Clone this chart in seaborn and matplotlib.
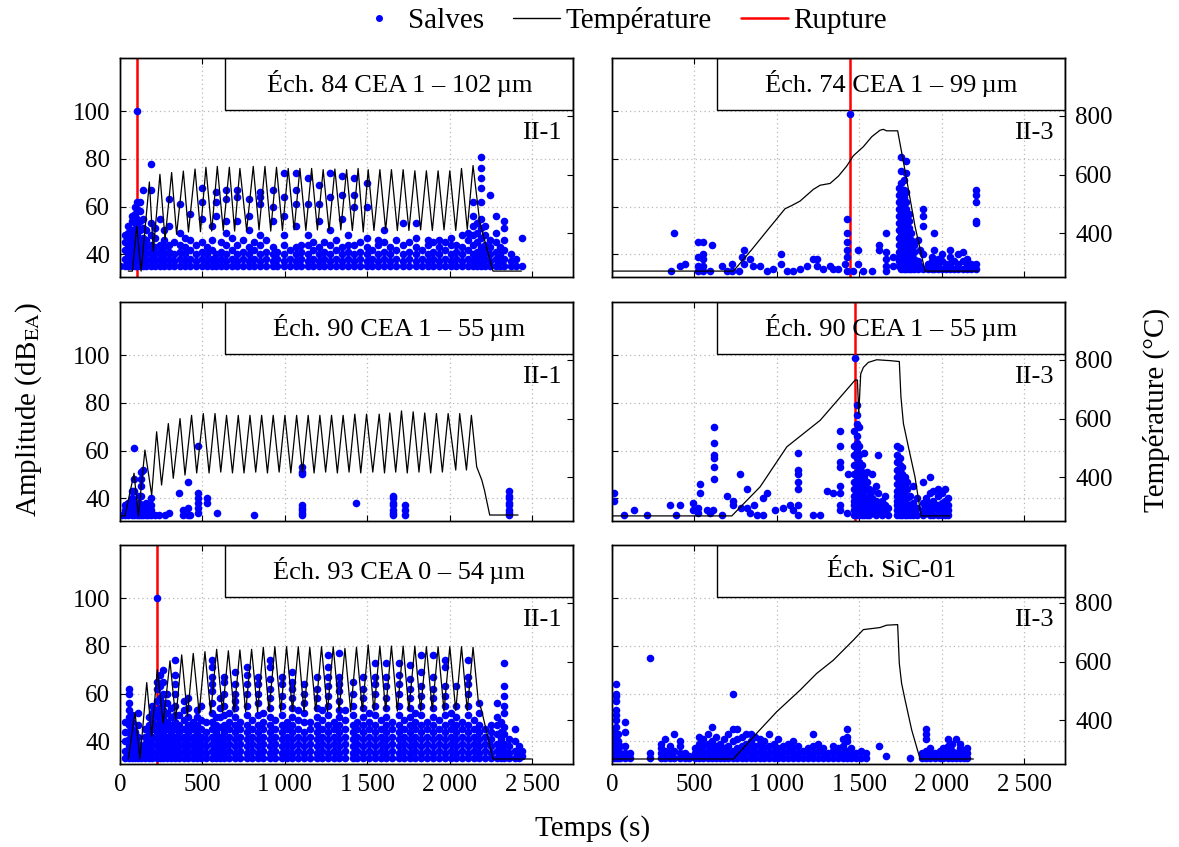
import pandas as pd
import matplotlib
matplotlib.use("Agg")
import matplotlib.pyplot as plt
from matplotlib.patches import Rectangle
from matplotlib.lines import Line2D
import seaborn as sns

# ---------------- data ----------------
# temperature curves : (time in s, temperature in °C)
p84_temp = [(50, 272), (75, 272), (101, 425), (128, 272), (178, 575), (202, 340), (242, 601), (273, 380),
            (313, 607), (343, 397), (384, 612), (415, 405), (455, 619), (488, 406), (521, 625), (556, 408),
            (590, 628), (626, 410), (663, 625), (695, 408), (727, 621), (768, 410), (808, 628), (843, 412),
            (879, 628), (914, 408), (949, 625), (985, 410), (1020, 621), (1056, 412), (1091, 621), (1127, 410),
            (1162, 621), (1197, 412), (1232, 617), (1268, 410), (1303, 619), (1339, 412), (1374, 617), (1409, 410),
            (1444, 621), (1475, 405), (1505, 617), (1540, 410), (1576, 617), (1611, 412), (1646, 617), (1682, 410),
            (1717, 617), (1752, 410), (1788, 613), (1823, 412), (1858, 613), (1894, 410), (1929, 613), (1965, 412),
            (2000, 613), (2036, 410), (2071, 621), (2106, 414), (2141, 631), (2182, 437), (2262, 272), (2434, 272)]

p74_temp = [(0, 272), (737, 272), (848, 345), (939, 408), (1050, 484), (1091, 495), (1141, 510), (1222, 550),
            (1263, 564), (1323, 570), (1374, 595), (1424, 629), (1464, 664), (1525, 695), (1576, 729), (1626, 751),
            (1646, 754), (1666, 749), (1733, 749), (1784, 595), (1838, 425), (1899, 272), (2222, 272)]

p90a_temp = [(10, 269), (30, 269), (85, 414), (111, 269), (151, 493), (192, 340), (222, 555), (252, 374),
             (293, 583), (323, 397), (364, 600), (394, 408), (434, 611), (465, 415), (505, 617), (540, 415),
             (576, 617), (611, 418), (646, 611), (682, 415), (717, 611), (752, 415), (788, 611), (823, 418),
             (859, 611), (894, 415), (929, 611), (965, 418), (1000, 611), (1036, 415), (1071, 611), (1106, 418),
             (1141, 611), (1177, 415), (1212, 611), (1247, 418), (1283, 611), (1318, 415), (1353, 611), (1389, 418),
             (1424, 615), (1460, 415), (1495, 615), (1533, 418), (1572, 615), (1604, 415), (1636, 619), (1672, 418),
             (1707, 626), (1742, 415), (1778, 623), (1813, 418), (1848, 619), (1884, 415), (1919, 617), (1955, 418),
             (1990, 617), (2036, 425), (2060, 617), (2101, 425), (2131, 611), (2163, 436), (2194, 391), (2210, 357),
             (2242, 272), (2414, 272)]

p90b_temp = [(0, 269), (727, 269), (899, 368), (1061, 504), (1263, 594), (1475, 731), (1489, 731), (1497, 616),
             (1509, 752), (1525, 774), (1555, 791), (1606, 800), (1687, 797), (1743, 794), (1753, 673), (1768, 583),
             (1798, 504), (1838, 402), (1875, 269), (2050, 269)]

p93_temp = [(50, 269), (91, 427), (121, 269), (162, 529), (192, 346), (226, 572), (262, 391), (303, 603),
            (338, 402), (374, 623), (409, 414), (444, 628), (480, 425), (515, 634), (550, 425), (586, 642),
            (622, 428), (657, 637), (692, 428), (727, 640), (762, 430), (798, 642), (834, 430), (869, 649),
            (904, 430), (939, 651), (975, 430), (1010, 651), (1046, 432), (1081, 651), (1116, 430), (1151, 649),
            (1187, 432), (1222, 651), (1258, 430), (1293, 651), (1329, 432), (1364, 645), (1399, 430), (1434, 649),
            (1470, 432), (1505, 657), (1540, 432), (1576, 653), (1611, 434), (1646, 653), (1682, 432), (1717, 653),
            (1752, 434), (1788, 653), (1823, 432), (1858, 651), (1894, 434), (1929, 651), (1965, 432), (2000, 651),
            (2036, 434), (2071, 651), (2106, 434), (2141, 649), (2172, 470), (2192, 436), (2262, 269), (2495, 269)]

sic_temp = [(0, 269), (737, 269), (879, 357), (1000, 430), (1141, 503), (1242, 560), (1343, 605), (1464, 673),
            (1525, 709), (1626, 716), (1666, 724), (1733, 726), (1743, 594), (1757, 526), (1778, 470), (1818, 368),
            (1869, 269), (2192, 269)]

# salves : (time in s, [amplitudes in dB])
p84_salves = [
    (0, [35]), (30, [35, 38, 42, 45, 48]), (50, [35, 37, 40, 43, 46, 49, 52]),
    (70, [35, 38, 41, 44, 47, 50, 54, 56]), (90, [35, 37, 40, 43, 46, 49, 53, 57, 60]),
    (105, [35, 38, 41, 44, 48, 52, 55, 59, 62, 100]), (120, [35, 37, 40, 43, 46, 50, 54, 58, 62]),
    (140, [35, 38, 41, 44, 47, 51, 55, 67]), (160, [35, 37, 40, 43, 46, 50]),
    (185, [35, 38, 41, 44, 48, 53, 67, 78]), (210, [35, 37, 40, 43, 47, 51]), (240, [35, 38, 41, 44, 55]),
    (265, [35, 37, 40, 43, 46, 50]), (300, [35, 38, 41, 44, 52, 63]), (330, [35, 37, 40, 45]),
    (365, [35, 38, 41, 44, 49, 61]), (395, [35, 37, 40, 43, 47]), (425, [35, 38, 42, 46, 57]),
    (460, [35, 37, 40, 44]), (495, [35, 38, 41, 45, 55, 62, 68]), (525, [35, 37, 40, 43]),
    (560, [35, 38, 42, 46, 52]), (580, [35, 37, 40, 56, 62, 66]), (610, [35, 38, 41, 45]),
    (645, [35, 37, 40, 44, 49, 54, 63, 67]), (680, [35, 38, 42, 47]), (710, [35, 37, 40, 44, 54, 64, 67]),
    (745, [35, 38, 41, 46]), (780, [35, 37, 40, 43, 50, 56, 63]), (815, [35, 38, 42, 45]),
    (850, [35, 37, 40, 44, 48, 61, 64, 66]), (885, [35, 38, 41, 46]), (925, [35, 37, 40, 43, 54, 60, 67]),
    (955, [35, 38, 41]), (995, [35, 37, 40, 44, 48, 56, 64, 74]), (1030, [35, 38, 42]),
    (1065, [35, 37, 40, 43, 52, 61, 67, 74]), (1100, [35, 38, 41, 44]), (1140, [35, 37, 40, 44, 48, 61, 72]),
    (1170, [35, 38, 42, 45]), (1205, [35, 37, 40, 43, 54, 61, 69]), (1240, [35, 38, 41, 45]),
    (1275, [35, 37, 40, 44, 50, 64, 74]), (1310, [35, 38, 42, 46]), (1345, [35, 37, 40, 43, 55, 65, 73]),
    (1380, [35, 38, 41, 44, 48]), (1420, [35, 37, 40, 44, 60, 65, 72]), (1455, [35, 38, 41, 45]),
    (1495, [35, 37, 40, 43, 47, 60, 70]), (1530, [35, 38, 42]), (1565, [35, 37, 40, 44, 46]),
    (1600, [35, 38, 41, 45, 50]), (1640, [35, 37, 40, 43]), (1675, [35, 38, 42, 46]),
    (1715, [35, 37, 40, 44, 53]), (1750, [35, 38, 41, 45]), (1795, [35, 37, 40, 43, 47, 53]),
    (1830, [35, 38, 42]), (1865, [35, 37, 40, 44, 46]), (1900, [35, 38, 41, 45]),
    (1935, [35, 37, 40, 43, 46]), (1970, [35, 38, 42, 45]), (2005, [35, 37, 40, 44, 47]),
    (2040, [35, 38, 41, 44]), (2075, [35, 37, 40, 43, 48]), (2110, [35, 38, 42, 46, 49]),
    (2140, [35, 37, 40, 44, 48, 52, 56, 62]), (2165, [35, 38, 41, 45, 49, 53]),
    (2190, [35, 37, 40, 43, 47, 51, 55, 62, 68, 72, 76, 81]), (2215, [35, 38, 41, 44, 48, 52]),
    (2245, [35, 37, 40, 43, 46, 65]), (2280, [35, 38, 41, 45, 49, 56]), (2305, [35, 37, 40, 43]),
    (2330, [35, 38, 42, 46, 51, 54]), (2370, [35, 37, 40]), (2400, [35, 38]), (2435, [35, 47]),
]

p74_salves = [
    (360, [33]), (378, [49]), (414, [35]), (444, [36]), (525, [33, 35, 39, 45]), (551, [33, 35, 38, 40, 45]),
    (596, [33]), (606, [44]), (667, [35]), (697, [33]), (727, [33, 36]), (768, [33]), (788, [39]),
    (804, [36, 42]), (838, [38]), (858, [35]), (899, [35]), (939, [33]), (980, [34]), (1024, [36, 40]),
    (1061, [33]), (1101, [33]), (1141, [34]), (1182, [35]), (1222, [38]), (1242, [35, 38]), (1283, [34]),
    (1323, [35]), (1343, [34]), (1374, [34]), (1414, [36]), (1428, [33, 39, 42, 45, 49, 55]), (1444, [99]),
    (1464, [33]), (1495, [36, 42]), (1525, [33]), (1576, [33]), (1622, [42, 44]), (1662, [33, 35, 38, 41, 49]),
    (1707, [35, 39]),
    (1740, [35, 37, 39, 41, 44, 47, 50, 53, 56, 59, 62, 65, 68]),
    (1755, [34, 36, 38, 40, 42, 45, 48, 51, 54, 57, 60, 63, 66, 70, 75, 81]),
    (1770, [34, 36, 38, 40, 43, 46, 49, 52, 55, 58, 61, 64, 67, 71]),
    (1785, [34, 36, 38, 41, 44, 47, 50, 53, 56, 59, 62, 66, 74, 79]),
    (1800, [34, 36, 39, 42, 45, 48, 51, 54, 57]), (1815, [34, 36, 38, 40, 43, 46, 49]),
    (1830, [34, 36, 38, 41, 44]), (1859, [34, 37, 46]), (1869, [35, 42]), (1885, [34, 40, 52, 56, 59]),
    (1915, [34, 36]), (1940, [34, 37, 39]), (1955, [34, 36, 42, 49]), (1975, [34, 36, 38]),
    (2000, [34, 37, 40]), (2025, [34, 36]), (2050, [34, 36, 39, 42]), (2075, [34, 37]),
    (2100, [34, 36, 40]), (2130, [34, 37, 41]), (2151, [34, 36, 38]), (2175, [34, 36]),
    (2208, [34, 36, 53, 54, 62, 65, 67]),
]

p90a_salves = [
    (10, [33]), (30, [33, 35, 37]), (50, [33, 35, 38]), (70, [33, 35, 37, 40, 43]),
    (85, [33, 35, 38, 43, 48, 61]), (100, [33, 35, 37]), (115, [33, 35, 38, 41]),
    (125, [33, 35, 37, 41, 45, 48, 51]), (140, [33, 35, 37, 52]), (155, [33, 35, 38]), (170, [33, 35]),
    (190, [33, 35, 37, 40]), (210, [33]), (235, [33]), (275, [33]), (300, [34]), (355, [42]),
    (380, [33, 35]), (415, [33, 36, 47]), (425, [33]), (475, [34, 36, 38, 40, 42, 62]), (525, [38, 40]),
    (586, [34]), (814, [33]), (1101, [33, 34, 35, 36, 37, 50, 51, 53]), (1434, [38]),
    (1656, [33, 34, 35, 37, 38, 40, 41]), (1727, [33, 35, 37]), (2359, [33, 34, 35, 37, 38, 40, 41, 43]),
]

p90b_salves = [
    (10, [39, 42]), (71, [33]), (131, [35]), (212, [33]), (354, [37]), (390, [33]), (410, [37]),
    (491, [35, 38]), (525, [34, 36]), (535, [42, 46]), (576, [35]), (596, [34]), (616, [35]),
    (620, [48, 53, 57, 58, 63, 70]), (667, [33]), (697, [41]), (737, [37, 39]), (778, [50]), (782, [36]),
    (818, [36, 44]), (838, [34]), (859, [37]), (879, [33]), (915, [33, 40]), (939, [42]), (990, [35]),
    (1036, [36]), (1081, [37]), (1101, [35]), (1131, [33, 37, 44, 47, 50, 52, 59]), (1222, [33]),
    (1263, [33]), (1303, [43]), (1343, [42]), (1384, [35, 37, 42, 45, 53, 55, 62, 68]), (1424, [34]),
    (1434, [50]), (1475, [99]),
    (1470, [33, 35, 37, 39, 41, 44, 47, 50, 54, 58, 62, 68]),
    (1485, [33, 35, 37, 39, 41, 43, 45, 48, 51, 54, 57, 60, 63, 66, 71, 75, 79]),
    (1500, [33, 35, 37, 39, 41, 43, 46, 49, 52, 55, 58, 62, 70]),
    (1515, [33, 35, 37, 39, 42, 45, 48, 51, 54]), (1530, [33, 35, 37, 40, 43, 46, 49, 59]),
    (1545, [33, 35, 37, 40, 44, 47, 51]), (1560, [33, 35, 38, 41, 44]), (1580, [34, 37, 40, 43, 50]),
    (1600, [33, 36, 39, 45]), (1616, [35, 38, 42, 58]), (1640, [33, 36, 39]), (1656, [34, 37, 41]),
    (1675, [33, 36]),
    (1730, [33, 35, 37, 39, 41, 43, 46, 49, 52, 55, 58, 62]),
    (1745, [33, 35, 37, 39, 41, 43, 45, 48, 51, 54, 57, 61]),
    (1760, [33, 35, 37, 39, 41, 44, 47, 50, 53]), (1775, [33, 35, 37, 40, 43, 46, 49]),
    (1790, [33, 35, 37, 40, 44, 47]), (1805, [33, 35, 37, 41]), (1828, [33, 35, 38, 45]),
    (1850, [33, 36, 40]), (1885, [33, 35, 38, 47]), (1905, [34, 37, 40]), (1929, [33, 35, 38, 42, 49]),
    (1950, [33, 36, 39, 43]), (1975, [33, 35, 37, 41, 44]), (2000, [33, 35, 38, 42]),
    (2020, [33, 36, 39, 44]), (2040, [33, 35, 37, 40]),
]

p93_salves = [
    (30, [33, 36, 40, 44, 48]), (55, [33, 35, 38, 41, 44, 47, 50, 53, 56, 60, 62]),
    (70, [33, 36, 39, 42, 45, 48, 51]), (90, [33, 35, 38, 41, 44]), (110, [33, 36, 39, 42, 47, 52]),
    (125, [33, 35, 38]), (150, [33, 36, 39, 42, 45]), (175, [33, 35, 38, 41, 44, 47, 50]),
    (195, [33, 36, 39, 42, 45, 48, 52, 55]), (222, [33, 35, 38, 41, 44, 47, 50, 53, 57, 62, 65, 100]),
    (240, [33, 36, 39, 42, 45, 48, 51, 54, 58, 63, 68]), (260, [33, 35, 38, 41, 44, 47, 50, 53, 56, 60, 65, 70]),
    (285, [33, 36, 39, 42, 45, 48, 52, 56, 60]), (310, [33, 35, 38, 41, 44, 47, 50, 54]),
    (335, [33, 36, 39, 42, 45, 48, 51, 55, 60, 64, 68, 74]), (360, [33, 35, 38, 41, 44, 47, 51]),
    (385, [33, 36, 39, 42, 45, 49, 53, 57]), (410, [33, 35, 38, 41, 44, 47, 50, 54, 58]),
    (440, [33, 36, 39, 42, 45, 48]), (465, [33, 35, 38, 41, 44, 47, 50, 53]),
    (490, [33, 36, 39, 42, 45, 49, 55]), (520, [33, 35, 38, 41, 44, 48]),
    (555, [33, 36, 39, 42, 45, 48, 52, 56, 61, 64, 67, 71, 74]), (580, [33, 35, 38, 41, 44, 47, 50]),
    (605, [33, 36, 39, 42, 46, 50, 54, 58]), (630, [33, 35, 38, 41, 44, 47, 51, 55, 60, 65, 67]),
    (660, [33, 36, 39, 42, 45, 48, 52]), (697, [33, 35, 38, 41, 44, 47, 50, 54, 57, 60, 64, 69]),
    (725, [33, 36, 39, 42, 45, 48]), (768, [33, 35, 38, 41, 44, 47, 51, 55, 60, 64, 68, 71]),
    (800, [33, 36, 39, 42, 45, 49]), (838, [33, 35, 38, 41, 44, 47, 51, 56, 60, 64, 67]),
    (870, [33, 36, 39, 42, 45, 48, 52]), (909, [33, 35, 38, 41, 44, 47, 50, 54, 58, 62, 66, 71, 74]),
    (940, [33, 36, 39, 42, 45, 49]), (980, [33, 35, 38, 41, 44, 47, 51, 55, 59, 64, 67]),
    (1010, [33, 36, 39, 42, 45, 48]), (1046, [33, 35, 38, 41, 44, 47, 50, 54, 58, 62, 65, 69]),
    (1080, [33, 36, 39, 42, 45, 49, 53]), (1115, [33, 35, 38, 41, 44, 48, 52, 56, 60, 64]),
    (1150, [33, 36, 39, 42, 45, 48]), (1192, [33, 35, 38, 41, 44, 47, 50, 54, 58, 62, 67]),
    (1225, [33, 36, 39, 42, 45, 49, 53]), (1262, [33, 35, 38, 41, 44, 47, 51, 55, 59, 63, 67, 71, 76]),
    (1295, [33, 36, 39, 42, 45, 48]), (1329, [33, 35, 38, 41, 44, 47, 50, 53, 57, 61, 64, 67, 77]),
    (1365, [33, 36, 39, 42, 45, 49, 53]), (1414, [33, 35, 38, 41, 44, 47, 51, 55, 60, 65]),
    (1440, [33, 36, 39, 42, 45, 48]), (1475, [33, 35, 38, 41, 44, 47, 50, 54, 58, 62, 67]),
    (1510, [33, 36, 39, 42, 45, 48, 52]), (1545, [33, 35, 38, 41, 44, 47, 51, 55, 60, 64, 67, 73]),
    (1580, [33, 36, 39, 42, 45, 49]), (1616, [33, 35, 38, 41, 44, 47, 50, 54, 58, 63, 67, 73]),
    (1650, [33, 36, 39, 42, 45, 48]), (1693, [33, 35, 38, 41, 44, 47, 51, 55, 60, 64, 68, 73]),
    (1725, [33, 36, 39, 42, 45, 49]), (1757, [33, 35, 38, 41, 44, 47, 50, 54, 58, 62, 66, 72]),
    (1790, [33, 36, 39, 42, 45, 48, 52]), (1828, [33, 35, 38, 41, 44, 47, 51, 55, 59, 63, 69, 76]),
    (1860, [33, 36, 39, 42, 45, 48]), (1899, [33, 35, 38, 41, 44, 47, 50, 54, 58, 62, 67, 76]),
    (1935, [33, 36, 39, 42, 45, 49]), (1970, [33, 35, 38, 41, 44, 47, 51, 55, 59, 63, 71, 74]),
    (2005, [33, 36, 39, 42, 45, 48, 52]), (2040, [33, 35, 38, 41, 44, 47, 50, 55, 63]),
    (2075, [33, 36, 39, 42, 45, 48]), (2111, [33, 35, 38, 41, 44, 47, 51, 55, 60, 64, 67, 74]),
    (2145, [33, 36, 39, 42, 45, 49]), (2180, [33, 35, 38, 41, 44, 47, 52, 56]),
    (2215, [33, 36, 39, 42, 45]), (2250, [33, 35, 38, 41, 44, 47]), (2285, [33, 36, 39, 43, 47, 50, 56]),
    (2310, [33, 35, 38, 41, 44, 48]), (2330, [33, 36, 39, 43, 46, 52, 55, 59, 63, 73]),
    (2360, [33, 35, 38, 41]), (2395, [33, 36, 40, 45]), (2420, [33, 35, 38]), (2440, [34, 36]),
]

sic_salves = [
    (0, [33, 35, 37, 39, 41]), (10, [33, 34, 36, 38, 40, 43, 45]),
    (26, [33, 35, 37, 39, 42, 46, 49, 51, 53, 57, 59, 60, 64]), (35, [33, 35, 37, 40, 43]),
    (50, [33, 35, 38]), (80, [33, 35, 38, 44, 48]), (110, [33, 35]), (232, [33, 35, 75]),
    (300, [33, 35, 37, 39]), (325, [33, 36, 41]), (350, [33, 35, 38]), (375, [33, 36, 43]),
    (410, [33, 35, 38, 40]), (445, [33, 35]), (470, [33, 34]), (505, [33, 35, 37]),
    (530, [33, 35, 37, 39, 42]), (555, [33, 35, 38, 41]), (580, [33, 36, 39, 43]),
    (605, [33, 35, 37, 40, 46]), (630, [33, 35, 38, 42]), (655, [33, 36, 39]), (680, [33, 35, 37, 41]),
    (705, [33, 35, 38, 43]), (733, [33, 36, 40, 45, 60]), (760, [33, 35, 37, 41, 45]),
    (790, [33, 35, 38, 42]), (815, [33, 36, 39, 43]), (845, [33, 35, 37, 40, 43]), (870, [33, 35, 38, 42]),
    (900, [33, 36, 39, 41]), (925, [33, 35, 37, 40]), (955, [33, 35, 38, 43]), (985, [33, 36, 39]),
    (1010, [33, 35, 37, 41]), (1040, [33, 35, 38]), (1070, [33, 36, 39]), (1100, [33, 35, 37, 40]),
    (1130, [33, 35, 38]), (1160, [33, 36]), (1190, [33, 35, 37]), (1220, [33, 35, 38, 43]),
    (1250, [33, 36, 39]), (1280, [33, 35, 37]), (1310, [33, 35]), (1340, [33, 36, 38]),
    (1370, [33, 35, 37]), (1400, [33, 35, 38, 41]), (1424, [33, 36, 40, 42, 45]), (1450, [33, 35, 37]),
    (1480, [33, 35]), (1510, [33, 36]), (1540, [33, 35]), (1622, [38]), (1662, [34]), (1808, [33]),
    (1880, [33, 35]), (1905, [33, 36, 41, 43, 45]), (1930, [33, 35, 37]), (1960, [33, 35]),
    (1990, [33, 36]), (2010, [33, 35, 37]), (2040, [33, 35, 38, 41]), (2065, [33, 36, 39]),
    (2085, [33, 35, 41]), (2110, [33, 35, 37, 39]), (2135, [33, 36]), (2155, [33, 35, 37]),
]

titles = ["Éch. 84 CEA 1 – 102\u2009µm", "Éch. 74 CEA 1 – 99\u2009µm",
          "Éch. 90 CEA 1 – 55\u2009µm", "Éch. 90 CEA 1 – 55\u2009µm",
          "Éch. 93 CEA 0 – 54\u2009µm", "Éch. SiC-01"]
cases = ["II-1", "II-3", "II-1", "II-3", "II-1", "II-3"]
ruptures = [105, 1444, None, 1475, 222, None]

x_ticks = [0, 500, 1000, 1500, 2000, 2500]
x_labels = ["0", "500", "1\u2009000", "1\u2009500", "2\u2009000", "2\u2009500"]
amp_ticks = [40, 60, 80, 100]
temp_ticks = [400, 600, 800]

# ---------------- style ----------------
sns.set_style("ticks")
plt.rcParams["font.family"] = ["Liberation Serif", "DejaVu Serif"]
plt.rcParams["mathtext.fontset"] = "stix"
plt.rcParams["axes.linewidth"] = 1.0
for key in ["axes.edgecolor", "xtick.color", "ytick.color", "text.color", "axes.labelcolor"]:
    plt.rcParams[key] = "black"

FS_TICK = 18
FS_LAB = 21
FS_BOX = 19

fig = plt.figure(figsize=(11.79, 8.47), dpi=100)

col_x = [0.1018, 0.519]
row_y = [0.673, 0.385, 0.098]
W, H = 0.3846, 0.259

salves = [p84_salves, p74_salves, p90a_salves, p90b_salves, p93_salves, sic_salves]
temps = [p84_temp, p74_temp, p90a_temp, p90b_temp, p93_temp, sic_temp]

for i in range(6):
    r, c = divmod(i, 2)
    ax = fig.add_axes([col_x[c], row_y[r], W, H])

    df = pd.DataFrame([(t, a) for t, amps in salves[i] for a in amps], columns=["t", "amp"])
    tdf = pd.DataFrame(temps[i], columns=["t", "temp"])

    ax.set_xlim(0, 2750)
    ax.set_ylim(30.5, 122.5)
    ax.grid(True, color="#b8b8b8", linestyle=(0, (1, 2.5)), linewidth=0.9)
    ax.set_axisbelow(True)

    # label box in the upper right corner
    ax.add_patch(Rectangle((0.232, 0.763), 0.768, 0.237, transform=ax.transAxes,
                           facecolor="white", edgecolor="black", linewidth=1.0, zorder=1.5))
    ax.text(0.616, 0.88, titles[i], transform=ax.transAxes, ha="center", va="center",
            fontsize=FS_BOX, zorder=4)
    ax.text(0.974, 0.655, cases[i], transform=ax.transAxes, ha="right", va="center",
            fontsize=FS_BOX, zorder=4)

    if ruptures[i] is not None:
        ax.axvline(ruptures[i], color="red", linewidth=1.8, zorder=2)

    sns.scatterplot(data=df, x="t", y="amp", ax=ax, color="blue", s=30, linewidth=0,
                    legend=False, zorder=3)

    axT = ax.twinx()
    sns.lineplot(data=tdf, x="t", y="temp", ax=axT, color="black", linewidth=0.9,
                 sort=False, estimator=None, legend=False)
    axT.set_ylim(252, 998)
    axT.set_xlim(0, 2750)

    ax.set_xticks(x_ticks)
    ax.set_yticks(amp_ticks)
    axT.set_yticks(temp_ticks)
    ax.set_xlabel("")
    ax.set_ylabel("")
    axT.set_xlabel("")
    axT.set_ylabel("")

    ax.tick_params(axis="x", direction="in", top=True, bottom=True, length=4,
                   labelsize=FS_TICK, pad=7, labelbottom=(r == 2))
    ax.tick_params(axis="y", direction="in", left=True, right=False, length=4,
                   labelsize=FS_TICK, pad=7, labelleft=(c == 0))
    axT.tick_params(axis="y", direction="in", right=True, left=False, length=4,
                    labelsize=FS_TICK, pad=7, labelright=(c == 1))
    if r == 2:
        ax.set_xticklabels(x_labels)

# shared labels
fig.text(0.503, 0.022, "Temps (s)", ha="center", va="center", fontsize=FS_LAB)
fig.text(0.024, 0.516, r"Amplitude (dB$_{\mathrm{EA}}$)", ha="center", va="center",
         rotation=90, fontsize=FS_LAB)
fig.text(0.981, 0.516, "Température (°C)", ha="center", va="center",
         rotation=90, fontsize=FS_LAB)

handles = [Line2D([], [], marker="o", color="blue", linestyle="none", markersize=4),
           Line2D([], [], color="black", linewidth=1.0),
           Line2D([], [], color="red", linewidth=1.8)]
fig.legend(handles, ["Salves", "Température", "Rupture"], loc="center",
           bbox_to_anchor=(0.527, 0.976), ncol=3, frameon=False, fontsize=FS_LAB,
           handlelength=1.6, handletextpad=0.2, columnspacing=1.0)

fig.savefig("out.png", dpi=100)
